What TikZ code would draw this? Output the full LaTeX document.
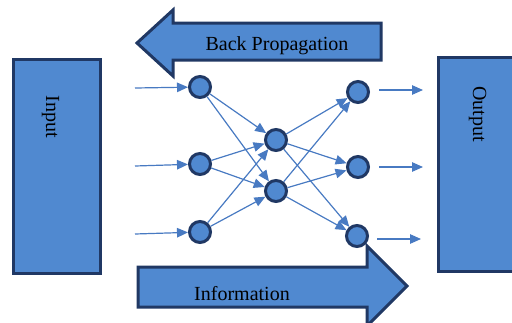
\documentclass[tikz,border=0pt]{standalone}
\usepackage{fontspec}
\setmainfont{Liberation Serif}
\usetikzlibrary{arrows.meta}
\definecolor{fillblue}{RGB}{80,137,208}
\definecolor{navy}{RGB}{32,56,100}
\definecolor{linkblue}{RGB}{72,122,194}
\begin{document}
\begin{tikzpicture}[x=1pt,y=-1pt,
  neuron/.style={circle, draw=navy, line width=3pt, fill=fillblue, minimum size=21pt, inner sep=0pt},
  link/.style={draw=linkblue, line width=1.2pt, -{Triangle[length=11pt,width=9.5pt]}},
  bigshape/.style={draw=navy, line width=3pt, fill=fillblue, line join=miter},
  lbl/.style={font=\fontsize{20}{24}\selectfont, inner sep=0pt}]
\useasboundingbox (0,0) rectangle (512,322);
\clip (0,0) rectangle (512,322);
% big shapes
\draw[bigshape] (13,59) rectangle (100,273);
\draw[bigshape] (438,57) rectangle (540,271);
\draw[bigshape] (137,43) -- (173,10) -- (173,23) -- (381,23) -- (381,60) -- (173,60) -- (173,76) -- cycle;
\draw[bigshape] (138,267) -- (367,267) -- (367,246) -- (407,286) -- (367,326) -- (367,307) -- (138,307) -- cycle;
% labels
\node[lbl, anchor=base] (bp) at (277,50) {Back Propagation};
\node[lbl, anchor=base] (info) at (242,300) {Information};
\node[lbl, anchor=base, rotate=-90] (inp) at (46,117) {Input};
\node[lbl, anchor=base, rotate=-90] (outp) at (473,114) {Output};
% neurons
\node[neuron] (a1) at (200,87) {};
\node[neuron] (a2) at (200,164) {};
\node[neuron] (a3) at (200,232) {};
\node[neuron] (b1) at (276,140) {};
\node[neuron] (b2) at (276,191) {};
\node[neuron] (c1) at (358,92) {};
\node[neuron] (c2) at (358,167) {};
\node[neuron] (c3) at (357,236) {};
% input and output arrows
\coordinate (i1) at (135,88);
\coordinate (i2) at (135,166);
\coordinate (i3) at (135,234);
\coordinate (s1) at (379,90);
\coordinate (s2) at (379,167);
\coordinate (s3) at (377,239);
\coordinate (t1) at (423,90);
\coordinate (t2) at (423,167);
\coordinate (t3) at (421,239);
\draw[link] (i1) -- (a1);
\draw[link] (i2) -- (a2);
\draw[link] (i3) -- (a3);
\draw[link] (s1) -- (t1);
\draw[link] (s2) -- (t2);
\draw[link] (s3) -- (t3);
% connections
\foreach \u in {a1,a2,a3}{\foreach \v in {b1,b2}{\draw[link] (\u) -- (\v);}}
\foreach \u in {b1,b2}{\foreach \v in {c1,c2,c3}{\draw[link] (\u) -- (\v);}}
\end{tikzpicture}
\end{document}
